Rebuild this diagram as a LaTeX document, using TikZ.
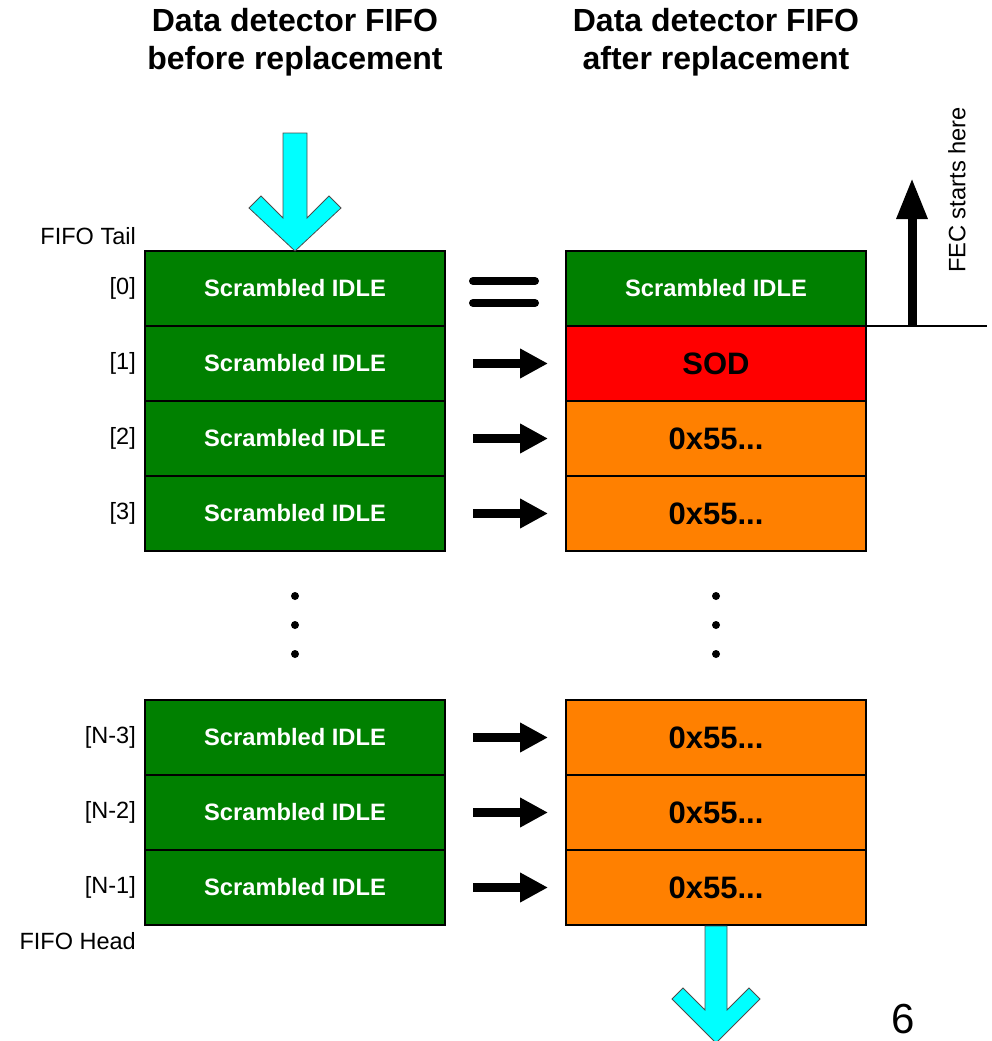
\documentclass[tikz,border=0pt]{standalone}
\usepackage{fontspec}
\setmainfont{Liberation Sans}
\usepackage{tikz}
\usetikzlibrary{arrows.meta,positioning}
\definecolor{idlegreen}{RGB}{0,128,0}
\definecolor{sodred}{RGB}{255,0,0}
\definecolor{padorange}{RGB}{255,128,0}
\definecolor{flowcyan}{RGB}{0,255,255}
\tikzset{
  cell/.style={draw=black,line width=2pt,minimum width=300pt,minimum height=75pt,inner sep=0pt,outer sep=0pt},
  idlecell/.style={cell,fill=idlegreen,text=white,font=\fontsize{23.7}{28}\selectfont\bfseries},
  sodcell/.style={cell,fill=sodred,font=\fontsize{31}{36}\selectfont\bfseries},
  padcell/.style={cell,fill=padorange,font=\fontsize{31}{36}\selectfont\bfseries},
  idxlabel/.style={anchor=east,inner sep=0pt,font=\fontsize{23.5}{28}\selectfont},
  titletext/.style={align=center,font=\fontsize{32}{38}\selectfont\bfseries},
  replarrow/.style={line width=9pt,-{Triangle[length=28pt,width=28pt]}},
  eqbar/.style={line width=8pt,line cap=round},
  flowarrow/.style={draw=black!70,line width=0.8pt,fill=flowcyan}
}
\newcommand{\fiforow}[5]{% name, y, index, new style, new text
  \node[idlecell] (old#1) at (295,#2) {Scrambled IDLE};%
  \node[#4] (new#1) at (716,#2) {#5};%
  \node[idxlabel] (idx#1) at (136,#2) {#3};%
}

\begin{document}
\begin{tikzpicture}[x=1pt,y=-1pt]
  \useasboundingbox (0,0) rectangle (992,1041);
  \node[titletext] (titleold) at (295,42) {Data detector FIFO\\before replacement};
  \node[titletext] (titlenew) at (716,42) {Data detector FIFO\\after replacement};
  \fiforow{0}{288.5}{[0]}{idlecell}{Scrambled IDLE}
  \fiforow{1}{363.5}{[1]}{sodcell}{SOD}
  \fiforow{2}{438.5}{[2]}{padcell}{0x55...}
  \fiforow{3}{513.5}{[3]}{padcell}{0x55...}
  \fiforow{N3}{737.5}{[N-3]}{padcell}{0x55...}
  \fiforow{N2}{812.5}{[N-2]}{padcell}{0x55...}
  \fiforow{N1}{887.5}{[N-1]}{padcell}{0x55...}
  \node[idxlabel] (tail) at (136,236) {FIFO Tail};
  \node[idxlabel] (head) at (136,941) {FIFO Head};
  \foreach \dy in {596,625,654} {
    \fill (295,\dy) circle (4pt);
    \fill (716,\dy) circle (4pt);
  }
  % equal and replaced rows
  \draw[eqbar] ([xshift=28pt,yshift=7.5pt]old0.east) -- ([xshift=-31pt,yshift=7.5pt]new0.west);
  \draw[eqbar] ([xshift=28pt,yshift=-14.5pt]old0.east) -- ([xshift=-31pt,yshift=-14.5pt]new0.west);
  \foreach \r in {1,2,3,N3,N2,N1}
    \draw[replarrow] ([xshift=28pt]old\r.east) -- ([xshift=-18pt]new\r.west);
  % data in and out
  \draw[flowarrow] (old0.north) -- ++(-46,-43) -- ++(12,-12) -- ++(22,22) -- ++(0,-85)
    -- ++(24,0) -- ++(0,85) -- ++(22,-22) -- ++(12,12) -- cycle;
  \draw[flowarrow] ([xshift=-11pt,yshift=-1pt]newN1.south) -- ++(0,84) -- ++(-22,-22) -- ++(-11,11)
    -- ++(44,44) -- ++(44,-44) -- ++(-11,-11) -- ++(-22,22) -- ++(0,-84) -- cycle;
  % FEC start
  \coordinate (fecend) at (987,326);
  \coordinate (fectip) at (912,178);
  \draw[line width=2pt] (new0.south east) -- (fecend);
  \draw[line width=9pt,-{Triangle[length=41pt,width=29pt]}] (new0.south east -| fectip) -- (fectip);
  \node[rotate=90,font=\fontsize{23.7}{28}\selectfont] (fectext) at (957,190) {FEC starts here};
  \node[inner sep=0pt,font=\fontsize{42}{50}\selectfont] (pagenum) at (903,1019) {6};
\end{tikzpicture}
\end{document}
